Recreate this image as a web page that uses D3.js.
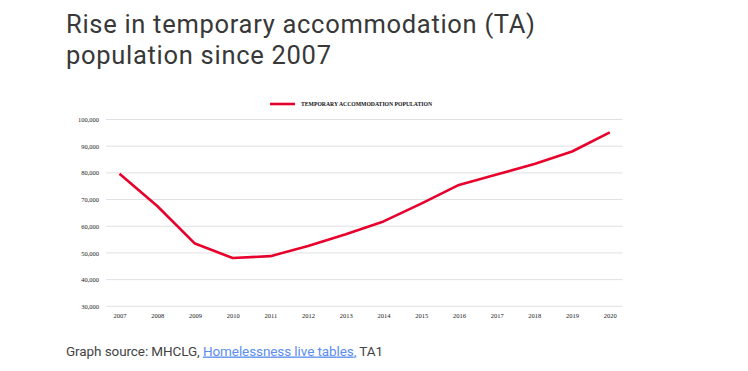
<!DOCTYPE html>
<html>
<head>
<meta charset="utf-8">
<script src="https://cdn.jsdelivr.net/npm/d3@7"></script>
<style>
  body { margin: 0; background: #fff; }
  svg { display: block; }
</style>
</head>
<body>
<svg id="grafico"></svg>
<script>
// dados
const anos = ['2007', '2008', '2009', '2010', '2011', '2012', '2013', '2014',
              '2015', '2016', '2017', '2018', '2019', '2020'];
const populacao = [79700, 67600, 53500, 48100, 48800, 52600, 57000, 61800,
                   68500, 75500, 79400, 83300, 88000, 95200];
const ticksY = [30000, 40000, 50000, 60000, 70000, 80000, 90000, 100000];
const nomeSerie = 'TEMPORARY ACCOMMODATION POPULATION';

const dados = anos.map((a, i) => ({ chave: a, valor: populacao[i] }));

let svg = d3.select('#grafico')
    .attr('width', 748)
    .attr('height', 371);

// titulo
svg.append('text')
    .attr('x', 66).attr('y', 32.5)
    .attr('font-family', 'Roboto, sans-serif')
    .attr('font-size', 25.5)
    .attr('fill', '#383838')
    .attr('textLength', 469)
    .attr('lengthAdjust', 'spacing')
    .text('Rise in temporary accommodation (TA)');
svg.append('text')
    .attr('x', 66).attr('y', 63.5)
    .attr('font-family', 'Roboto, sans-serif')
    .attr('font-size', 25.5)
    .attr('fill', '#383838')
    .attr('textLength', 265)
    .attr('lengthAdjust', 'spacing')
    .text('population since 2007');

let fnX = d3.scalePoint()
    .domain(anos)
    .range([119.5, 609.8]);

let fnY = d3.scaleLinear()
    .domain([30000, 100000])
    .range([306.3, 119.5]);

let plotagem = svg.append('g');

// grade
plotagem.append('g').attr('id', 'grade')
    .selectAll('line').data(ticksY).enter().append('line')
    .attr('x1', 106).attr('x2', 622.5)
    .attr('y1', d => fnY(d)).attr('y2', d => fnY(d))
    .attr('stroke', '#e0e0e0')
    .attr('stroke-width', 1);

// eixo Y
let eixoY = d3.axisLeft(fnY).tickValues(ticksY).tickSize(0).tickPadding(0)
    .tickFormat(d3.format(','));
plotagem.append('g').attr('id', 'eixoY')
    .attr('transform', 'translate(99,0)')
    .call(eixoY)
    .call(g => g.select('.domain').remove())
    .call(g => g.selectAll('text')
        .attr('font-family', 'Liberation Serif, serif')
        .attr('font-size', 6.5)
        .attr('fill', '#222'));

// eixo X
let eixoX = d3.axisBottom(fnX).tickSize(0).tickPadding(0);
plotagem.append('g').attr('id', 'eixoX')
    .attr('transform', 'translate(0,313)')
    .call(eixoX)
    .call(g => g.select('.domain').remove())
    .call(g => g.selectAll('text')
        .attr('font-family', 'Liberation Serif, serif')
        .attr('font-size', 6.5)
        .attr('fill', '#222'));

// linha
let linha = d3.line()
    .x(d => fnX(d.chave))
    .y(d => fnY(d.valor));

plotagem.append('path')
    .datum(dados)
    .attr('d', linha)
    .attr('fill', 'none')
    .attr('stroke', '#e8002d')
    .attr('stroke-width', 2.6)
    .attr('stroke-linejoin', 'round');

// legenda
let legenda = svg.append('g').attr('transform', 'translate(270,104)');
legenda.append('line')
    .attr('x1', 0).attr('x2', 25)
    .attr('stroke', '#e8002d')
    .attr('stroke-width', 2.6);
legenda.append('text')
    .attr('x', 31).attr('y', 2)
    .attr('font-family', 'Liberation Serif, serif')
    .attr('font-size', 6)
    .attr('font-weight', 'bold')
    .attr('fill', '#111')
    .attr('textLength', 131)
    .attr('lengthAdjust', 'spacingAndGlyphs')
    .text(nomeSerie);

// fonte
let fonte = svg.append('text')
    .attr('x', 66).attr('y', 355.5)
    .attr('font-family', 'Roboto, sans-serif')
    .attr('font-size', 13.5)
    .attr('fill', '#444')
    .attr('textLength', 317)
    .attr('lengthAdjust', 'spacing');
fonte.append('tspan').text('Graph source: MHCLG, ');
fonte.append('tspan').attr('fill', '#5b8def').attr('text-decoration', 'underline').text('Homelessness live tables,');
fonte.append('tspan').text(' TA1');
</script>
</body>
</html>
